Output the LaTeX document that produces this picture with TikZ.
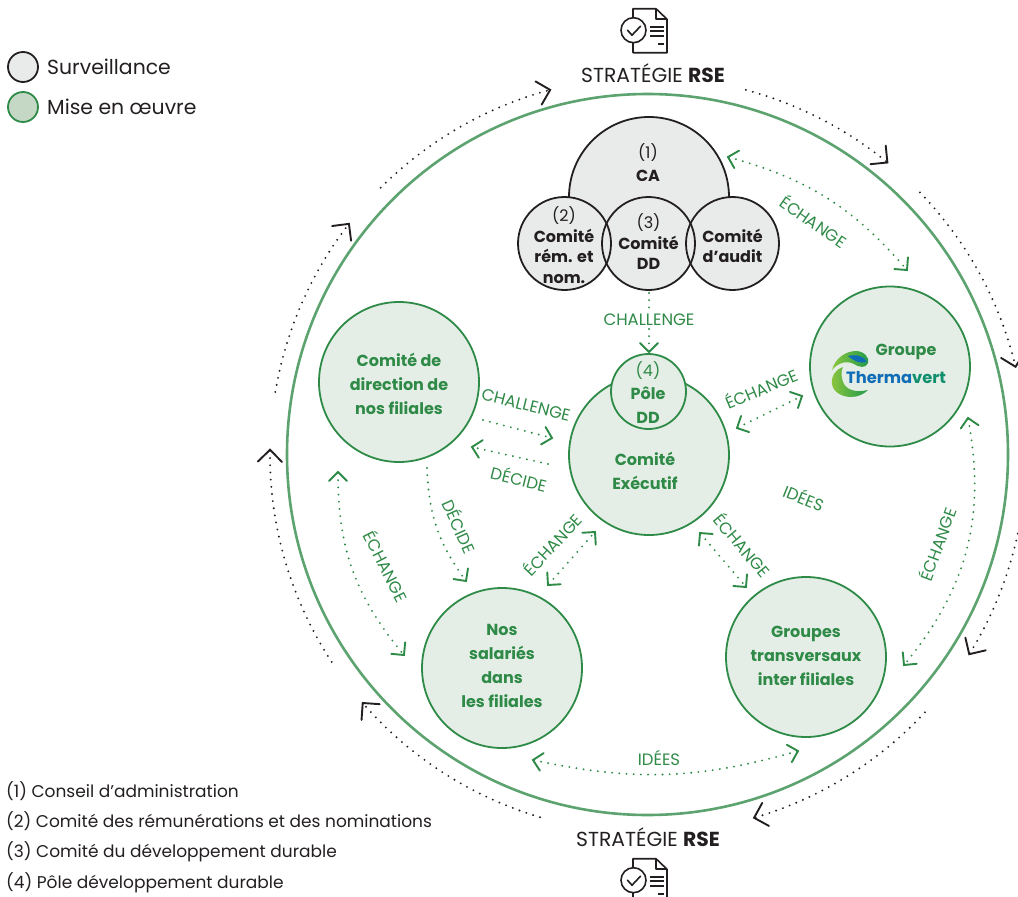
\documentclass[tikz,border=0pt]{standalone}
\usepackage{fontspec}
\setmainfont{Poppins}
\usetikzlibrary{arrows.meta,calc}
\definecolor{gtxt}{HTML}{2F8A47}
\definecolor{gline}{HTML}{2E8B47}
\definecolor{ring}{HTML}{5CA36F}
\definecolor{gfill}{HTML}{E4EEE6}
\definecolor{lgfill}{HTML}{C5D8C6}
\definecolor{kfill}{HTML}{E9EBEA}
\definecolor{ink}{HTML}{231F20}
\definecolor{thblue}{HTML}{0F6CB6}
\definecolor{thteal}{HTML}{0F8F6E}
\definecolor{thdark}{HTML}{1F9A4A}
\definecolor{thlight}{HTML}{8CC63F}
\pgfdeclarearrow{
  name=Chev,
  parameters={\the\pgfarrowlength},
  setup code={
    \pgfarrowssettipend{0pt}
    \pgfarrowssetlineend{-1pt}
    \pgfarrowssetvisualbackend{-\pgfarrowlength}
    \pgfarrowssavethe\pgfarrowlength
  },
  defaults={length=10pt},
  drawing code={
    \pgfsetdash{}{0pt}
    \pgfsetroundcap
    \pgfsetmiterjoin
    \pgfsetlinewidth{1.9pt}
    \pgfpathmoveto{\pgfqpoint{-\pgfarrowlength}{\pgfarrowlength}}
    \pgfpathlineto{\pgfqpoint{0pt}{0pt}}
    \pgfpathlineto{\pgfqpoint{-\pgfarrowlength}{-\pgfarrowlength}}
    \pgfusepathqstroke
  }
}
\tikzset{
 x=1pt,y=-1pt,
 gcircle/.style={circle,draw=gline,fill=gfill,line width=1.8pt,inner sep=0pt,minimum size=#1},
 gtext/.style={align=center,text=gtxt,inner sep=0pt,font=\fontsize{16}{24}\selectfont\bfseries},
 kcircle/.style={circle,draw=ink,fill=none,line width=1.8pt,inner sep=0pt,minimum size=93pt},
 ktext/.style={align=center,text=ink,font=\fontsize{16}{20.5}\selectfont},
 lbl/.style={text=gtxt,font=\fontsize{16.5}{18}\selectfont,inner sep=1pt},
 gdots/.style={draw=gline,line width=2.1pt,line cap=round,dash pattern=on 0pt off 7.2pt},
 garrow/.style={gdots,{Chev[length=9pt]}-{Chev[length=9pt]}},
 gsingle/.style={gdots,-{Chev[length=9pt]}},
 karrow/.style={draw=ink,line width=2.1pt,line cap=round,dash pattern=on 0pt off 7.2pt,-{Chev[length=12pt]}},
 docicon/.pic={
  \draw[ink,line width=1.6pt,line join=round] (-18.5,-12) -- (-18.5,-21.5) -- (4.5,-21.5) -- (15.5,-11) -- (15.5,22.5) -- (-18.5,22.5) -- (-18.5,12);
  \draw[ink,line width=1.6pt,line join=round] (4.5,-21.5) -- (4.5,-11) -- (15.5,-11);
  \draw[ink,line width=1.6pt] (-18,0) circle[radius=12.5];
  \draw[ink,line width=1.6pt,line cap=round,line join=round] (-24,0) -- (-19.5,5) -- (-11,-4);
  \draw[ink,line width=1.6pt] (-2,-3.5) -- (12,-3.5) (-2,1) -- (12,1) (-2,5.5) -- (12,5.5) (6,14) -- (12,14);
 }
}
\begin{document}
\begin{tikzpicture}
\useasboundingbox (0,0) rectangle (1018,897);
% outer ring
\coordinate (c) at (648,455);
\node[circle,draw=ring,line width=2.6pt,minimum size=721pt,inner sep=0pt] (outer) at (647.5,454.5) {};
% outer dotted arcs
\foreach \a/\b in {135/105,75/50.7,44/13.5,-12/-31.8,-42.9/-73.7,-106.6/-139,-146.8/-180.8,170.4/142.3}{
 \draw[karrow] (c) ++(\a:378pt) arc[start angle=\a,end angle=\b,radius=378pt];
}
% CA group
\fill[kfill] (569,197) arc[start angle=180,end angle=0,radius=80pt] -- (729,260) -- (569,260) -- cycle;
\draw[ink,line width=1.8pt] (569,197) arc[start angle=180,end angle=0,radius=80pt];
\node[text=ink,align=center,font=\fontsize{16}{23}\selectfont] (ca) at (648,163) {(1)\\\bfseries CA};
\fill[kfill] (564.5,243.5) circle[radius=46.5] (648.5,243.5) circle[radius=46.5] (732.5,243.5) circle[radius=46.5];
\node[kcircle] (c2) at (564.5,243.5) {};
\node[kcircle] (c3) at (648.5,243.5) {};
\node[kcircle] (c4) at (732.5,243.5) {};
\node[ktext] (t2) at (564,245) {{\mdseries (2)}\\\bfseries Comité\\\bfseries rém. et\\\bfseries nom.};
\node[ktext] (t3) at (648.5,242) {{\mdseries (3)}\\\bfseries Comité\\\bfseries DD};
\node[ktext] (t4) at (732.5,246) {\bfseries Comité\\\bfseries d’audit};
% green circles
\node[gcircle=160pt] (dir) at (399,382) {};
\node[gcircle=160pt] (exec) at (649,455) {};
\node[gcircle=75pt] (pole) at (648.5,391.5) {};
\node[gcircle=160pt] (therm) at (890,366.5) {};
\node[gcircle=160pt] (sal) at (502,668) {};
\node[gcircle=160pt] (grt) at (806,657) {};
\node[gtext] (dirt) at (399,384) {Comité de\\direction de\\nos filiales};
\node[gtext,font=\fontsize{16}{23.5}\selectfont\bfseries] (exect) at (645,471) {Comité\\Exécutif};
\node[gtext,font=\fontsize{16}{23.5}\selectfont\bfseries] (polet) at (648,392.5) {{\mdseries (4)}\\Pôle\\DD};
\node[gtext] (grp) at (906,352) {Groupe};
\node[gtext] (salt) at (502,666) {Nos\\salariés\\dans\\les filiales};
\node[gtext] (grtt) at (806,656) {Groupes\\transversaux\\inter filiales};
% logo
\shade[left color=thlight,right color=thdark] (832,370) .. controls (835,358) and (846,351) .. (856,351) .. controls (864,351) and (870,358) .. (868,363) .. controls (866,368) and (860,368) .. (854,364) .. controls (846,360) and (838,363) .. (832,370) -- cycle;
\fill[thblue] (848,356) .. controls (856,354) and (864,356) .. (867,362) .. controls (860,364) and (854,361) .. (848,356) -- cycle;
\shade[left color=thlight,right color=thdark] (843,367) .. controls (836,369) and (831,376) .. (832,384) .. controls (833,392) and (842,397) .. (851,397) .. controls (858,397) and (864,394) .. (868,390) .. controls (856,393) and (846,390) .. (843,382) .. controls (841,376) and (841,371) .. (843,367) -- cycle;
\node[anchor=west,inner sep=0pt,font=\fontsize{16.3}{20}\selectfont\bfseries] (tv) at (846,378) {\textcolor{thblue}{Therma}\textcolor{thteal}{vert}};
% connectors
\coordinate (a1) at (728,157); \coordinate (a2) at (907,270);
\draw[garrow] (a1) to[bend left=17] (a2);
\coordinate (b1) at (649,293); \coordinate (b2) at (649,352);
\draw[gsingle] (b1) -- (b2);
\node[lbl,fill=white,inner sep=0.5pt] (chal1) at (649,320) {CHALLENGE};
\coordinate (d1) at (483,420); \coordinate (d2) at (552,438);
\draw[gsingle] (d1) -- (d2);
\node[lbl,rotate=-14] (chal2) at (526,405) {CHALLENGE};
\coordinate (e1) at (548,464); \coordinate (e2) at (472,447);
\draw[gsingle] (e1) -- (e2);
\node[lbl,rotate=-14] (dec1) at (519,478) {DÉCIDE};
\coordinate (f1) at (737,428); \coordinate (f2) at (802,396);
\draw[garrow] (f1) -- (f2);
\node[lbl,rotate=23] (ech1) at (761,388) {ÉCHANGE};
\coordinate (g1) at (427,468); \coordinate (g2) at (466,581);
\draw[gsingle] (g1) to[bend right=17] (g2);
\node[lbl,rotate=-66] (dec2) at (460,526) {DÉCIDE};
\coordinate (h1) at (338,472); \coordinate (h2) at (404,655);
\draw[garrow] (h1) to[bend right=20] (h2);
\node[lbl,rotate=-63] (ech2) at (387,566) {ÉCHANGE};
\coordinate (i1) at (548,585); \coordinate (i2) at (595,532);
\draw[garrow] (i1) -- (i2);
\node[lbl,rotate=47] (ech3) at (552,544) {ÉCHANGE};
\coordinate (j1) at (700,533); \coordinate (j2) at (746,587);
\draw[garrow] (j1) -- (j2);
\node[lbl,rotate=-50] (ech4) at (743,545) {ÉCHANGE};
\coordinate (k1) at (968,418); \coordinate (k2) at (904,665);
\draw[garrow] (k1) to[bend left=25] (k2);
\node[lbl,rotate=70] (ech5) at (937,544) {ÉCHANGE};
\coordinate (l1) at (533,760); \coordinate (l2) at (798,751);
\draw[garrow] (l1) to[bend right=14] (l2);
\node[lbl] (ide1) at (659,758) {IDÉES};
\node[lbl,rotate=-22] (ide2) at (804,497) {IDÉES};
\node[lbl,rotate=-35] (ech0) at (814,221) {ÉCHANGE};
% strategy
\pic at (651.5,30.2) {docicon};
\pic at (651.5,880.2) {docicon};
\node[text=ink,font=\fontsize{20.3}{22}\selectfont] (s1) at (653,73) {STRATÉGIE \textbf{RSE}};
\node[text=ink,font=\fontsize{20.3}{22}\selectfont] (s2) at (648,837) {STRATÉGIE \textbf{RSE}};
% legend
\node[circle,draw=ink,fill=kfill,line width=1.8pt,minimum size=30pt,inner sep=0pt] (lg1) at (23,67) {};
\node[circle,draw=gline,fill=lgfill,line width=1.8pt,minimum size=30pt,inner sep=0pt] (lg2) at (23,107) {};
\node[anchor=west,inner sep=0pt,text=ink,font=\fontsize{20.4}{24}\selectfont] (lt1) at (47,67) {Surveillance};
\node[anchor=west,inner sep=0pt,text=ink,font=\fontsize{20.4}{24}\selectfont] (lt2) at (47,107) {Mise en œuvre};
% footnotes
\foreach \n/\y/\t in {n1/791/{(1) Conseil d’administration},n2/821/{(2) Comité des rémunérations et des nominations},n3/852/{(3) Comité du développement durable},n4/883/{(4) Pôle développement durable}}{
 \node[anchor=west,inner sep=0pt,text=ink,font=\fontsize{17}{20}\selectfont] (\n) at (6,\y) {\t};
}
\end{tikzpicture}
\end{document}
